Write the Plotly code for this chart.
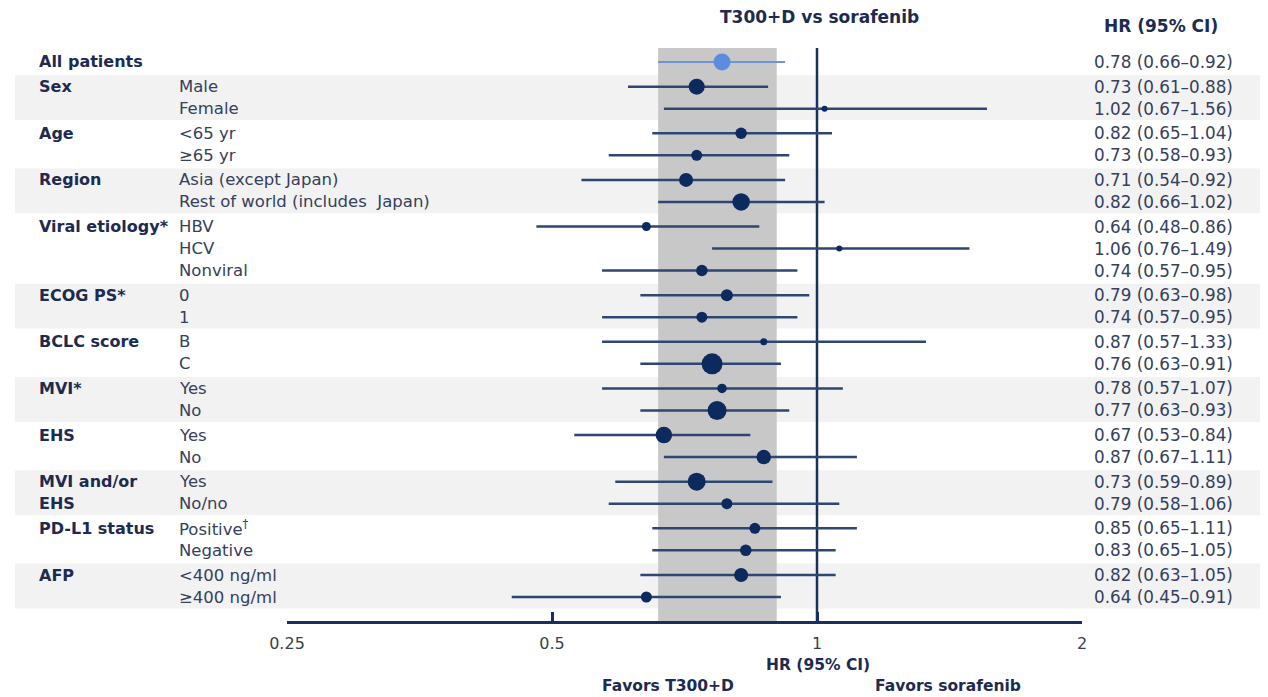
import math
import plotly.graph_objects as go

# ---------------- data ----------------
group_of_row = [0, 1, 1, 2, 2, 3, 3, 4, 4, 4, 5, 5, 6, 6, 7, 7, 8, 8, 9, 9, 10, 10, 11, 11]
group_text = ["All patients", "Sex", "", "Age", "", "Region", "", "Viral etiology*", "", "",
              "ECOG PS*", "", "BCLC score", "", "MVI*", "", "EHS", "", "MVI and/or", "EHS",
              "PD-L1 status", "", "AFP", ""]
subgroups = ["", "Male", "Female", "<65 yr", "≥65 yr", "Asia (except Japan)",
             "Rest of world (includes  Japan)", "HBV", "HCV", "Nonviral", "0", "1", "B", "C",
             "Yes", "No", "Yes", "No", "Yes", "No/no", "Positive<sup>†</sup>", "Negative",
             "<400 ng/ml", "≥400 ng/ml"]
hr = [0.78, 0.73, 1.02, 0.82, 0.73, 0.71, 0.82, 0.64, 1.06, 0.74, 0.79, 0.74,
      0.87, 0.76, 0.78, 0.77, 0.67, 0.87, 0.73, 0.79, 0.85, 0.83, 0.82, 0.64]
ci_lo = [0.66, 0.61, 0.67, 0.65, 0.58, 0.54, 0.66, 0.48, 0.76, 0.57, 0.63, 0.57,
         0.57, 0.63, 0.57, 0.63, 0.53, 0.67, 0.59, 0.58, 0.65, 0.65, 0.63, 0.45]
ci_hi = [0.92, 0.88, 1.56, 1.04, 0.93, 0.92, 1.02, 0.86, 1.49, 0.95, 0.98, 0.95,
         1.33, 0.91, 1.07, 0.93, 0.84, 1.11, 0.89, 1.06, 1.11, 1.05, 1.05, 0.91]
band_lo, band_hi = 0.66, 0.90
tick_vals = [0.25, 0.5, 1, 2]
tick_text = ["0.25", "0.5", "1", "2"]

# ---------------- styles ----------------
marker_px = [17, 16, 6, 11.5, 11, 14, 17.5, 9, 6, 11.5, 12, 11, 7, 21, 9.5, 19,
             16.5, 14.5, 18, 11, 11, 11.5, 14, 11]
OFF = 8                      # page body margin of the html page
SW, SH = 1268, 697           # screen size
W, H = SW - OFF, SH - OFF    # figure size
FONT = "DejaVu Sans"
NAVY = "#0c2a5e"
LINE = "#2e4672"
BOLD_C = "#1d2b50"
TXT_C = "#34405c"
GAP = 1.12


def px(x):
    return (x - OFF) / W


def py(y):
    return 1 - (y - OFF) / H


# row positions (within group step 1, between groups GAP)
ypos = []
cur = 0.0
for i, g in enumerate(group_of_row):
    if i > 0:
        cur += 1.0 if g == group_of_row[i - 1] else GAP
    ypos.append(cur)

row0_px, rowN_px, top_px, axis_px = 62, 597, 48, 621
ppu = (rowN_px - row0_px) / ypos[-1]
y_top = -(row0_px - top_px) / ppu
y_bot = ypos[-1] + (axis_px - rowN_px) / ppu

fig = go.Figure()

# CI lines
xs, ys = [], []
for i in range(1, len(hr)):
    xs += [ci_lo[i], ci_hi[i], None]
    ys += [ypos[i], ypos[i], None]
fig.add_trace(go.Scatter(x=xs, y=ys, mode="lines", line=dict(color=LINE, width=2.5),
                         hoverinfo="skip", showlegend=False))
fig.add_trace(go.Scatter(x=[ci_lo[0], ci_hi[0]], y=[ypos[0], ypos[0]], mode="lines",
                         line=dict(color="#6f93d6", width=2.2), hoverinfo="skip", showlegend=False))
# markers
colors = ["#5b8ce0"] + [NAVY] * (len(hr) - 1)
fig.add_trace(go.Scatter(x=hr, y=ypos, mode="markers",
                         marker=dict(size=marker_px, color=colors, opacity=1, line=dict(width=0)),
                         showlegend=False))

shapes = []
# alternating group bands
for g in sorted(set(group_of_row)):
    if g % 2 == 1:
        rows = [i for i, gg in enumerate(group_of_row) if gg == g]
        shapes.append(dict(type="rect", xref="paper", yref="y", x0=px(15), x1=1,
                           y0=ypos[rows[0]] - 0.52, y1=ypos[rows[-1]] + 0.52,
                           fillcolor="#f2f2f2", line=dict(width=0), layer="below"))
shapes.append(dict(type="rect", xref="x", yref="y domain", x0=band_lo, x1=band_hi, y0=0, y1=1,
                   fillcolor="#c8c8c8", line=dict(width=0), layer="below"))
shapes.append(dict(type="line", xref="x", yref="y domain", x0=1, x1=1, y0=0, y1=1,
                   line=dict(color="#1b2f5e", width=2.5), layer="below"))

ann = []
for i in range(len(hr)):
    if group_text[i]:
        ann.append(dict(xref="paper", yref="y", x=px(37), y=ypos[i], text="<b>" + group_text[i] + "</b>",
                        xanchor="left", yanchor="middle", showarrow=False,
                        font=dict(family=FONT, size=16, color=BOLD_C)))
    if subgroups[i]:
        ann.append(dict(xref="paper", yref="y", x=px(177), y=ypos[i], text=subgroups[i],
                        xanchor="left", yanchor="middle", showarrow=False,
                        font=dict(family=FONT, size=16.5, color=TXT_C)))
    ann.append(dict(xref="paper", yref="y", x=px(1092), y=ypos[i],
                    text=f"{hr[i]:.2f} ({ci_lo[i]:.2f}–{ci_hi[i]:.2f})",
                    xanchor="left", yanchor="middle", showarrow=False,
                    font=dict(family=FONT, size=16.8, color=TXT_C)))


def ptext(x, y, t, size=16, color=BOLD_C):
    ann.append(dict(xref="paper", yref="paper", x=px(x), y=py(y),
                    text="<b>" + t + "</b>", xanchor="center", yanchor="middle",
                    showarrow=False, font=dict(family=FONT, size=size, color=color)))


ptext(819, 17, "T300+D vs sorafenib", size=17)
ptext(1161, 26, "HR (95% CI)", size=17)
ptext(818, 665, "HR (95% CI)", size=15.5)
ptext(668, 686, "Favors T300+D", size=15.5)
ptext(948, 686, "Favors sorafenib", size=15.5)

fig.update_layout(
    width=W, height=H, autosize=False,
    margin=dict(l=0, r=0, t=0, b=0, pad=0, autoexpand=False),
    paper_bgcolor="white", plot_bgcolor="rgba(0,0,0,0)",
    shapes=shapes, annotations=ann,
    xaxis=dict(type="log", range=[math.log10(0.25), math.log10(2)],
               domain=[px(287), px(1082)], tickvals=tick_vals, ticktext=tick_text,
               showline=True, linecolor="#1b2f5e", linewidth=3, ticks="inside",
               ticklen=9, tickwidth=3, tickcolor="#1b2f5e", showgrid=False, zeroline=False,
               tickfont=dict(family=FONT, size=16, color="#3a3f4a"), ticklabelstandoff=6,
               fixedrange=True),
    yaxis=dict(domain=[py(axis_px), py(top_px)], range=[y_bot, y_top],
               visible=False, fixedrange=True),
    font=dict(family=FONT),
)

fig.write_html("out.html")
